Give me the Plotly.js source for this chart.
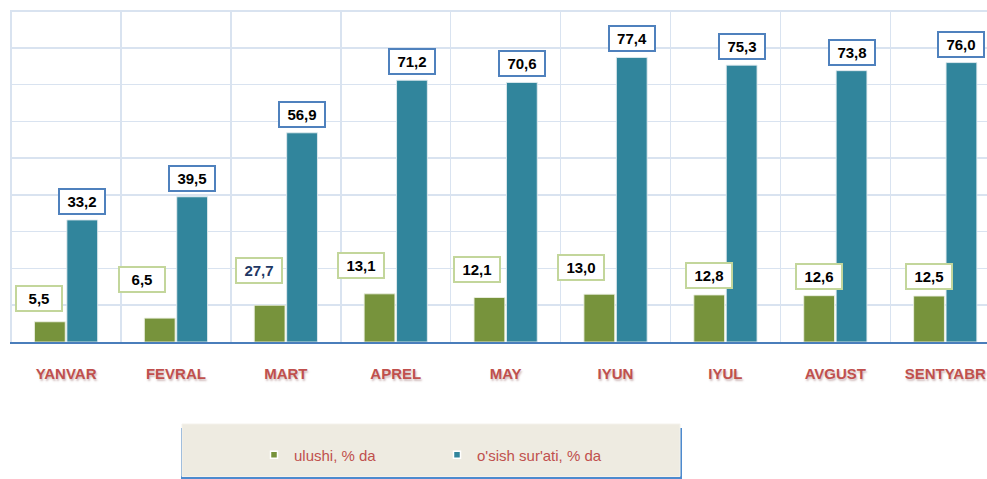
<!DOCTYPE html>
<html>
<head>
<meta charset="utf-8">
<script src="https://cdn.plot.ly/plotly-3.0.1.min.js"></script>
<style>html,body{margin:0;padding:0;background:#fff;}#chart{width:987px;height:479px;}</style>
</head>
<body>
<div id="chart"></div>
<script>
// ---- data ----
var months = ['YANVAR', 'FEVRAL', 'MART', 'APREL', 'MAY', 'IYUN', 'IYUL', 'AVGUST', 'SENTYABR'];
var ulushi = [5.5, 6.5, 10.0, 13.1, 12.1, 13.0, 12.8, 12.6, 12.5];          // drawn bar heights
var ulushiLabels = ['5,5', '6,5', '27,7', '13,1', '12,1', '13,0', '12,8', '12,6', '12,5']; // printed labels
var osish = [33.2, 39.5, 56.9, 71.2, 70.6, 77.4, 75.3, 73.8, 76.0];
var seriesNames = ['ulushi, % da', "o'sish sur'ati, % da"];

// ---- styling ----
var GREEN = '#77933c', TEAL = '#31859c', RED = '#c0504d';
var GRID = '#d9e3f0';
var BARGAP = 0.41;
var half = (1 - BARGAP) / 4; // offset of each bar centre from the category centre
// manual nudges of the green labels (px), as placed in the original
var gNudgeX = [-11, -18, -11, -19, -12, -18, 0, 0, 0];
var gNudgeY = [10, 25, 21, 15, 15, 13, 6, 6, 6];
var gLabelColor = ['#000', '#000', '#1f3864', '#000', '#000', '#000', '#000', '#000', '#000'];

var idx = months.map(function (m, i) { return i; });
function fmt(v) { return v.toFixed(1).replace('.', ','); }

var traces = [
  {
    type: 'bar', x: idx, y: ulushi, name: seriesNames[0], showlegend: false,
    marker: { color: GREEN, line: { color: 'rgba(235,240,225,0.9)', width: 1 } },
    hoverinfo: 'skip'
  },
  {
    type: 'bar', x: idx, y: osish, name: seriesNames[1], showlegend: false,
    marker: { color: TEAL, line: { color: 'rgba(225,235,240,0.9)', width: 1 } },
    hoverinfo: 'skip'
  },
  // legend entries (small square markers, as in the original)
  {
    type: 'scatter', mode: 'markers', x: [null], y: [null], name: seriesNames[0],
    marker: { symbol: 'square', size: 7, color: GREEN, line: { color: '#fff', width: 1.5 } }
  },
  {
    type: 'scatter', mode: 'markers', x: [null], y: [null], name: seriesNames[1],
    marker: { symbol: 'square', size: 7, color: TEAL, line: { color: '#fff', width: 1.5 } }
  }
];

var annotations = [];
idx.forEach(function (i) {
  annotations.push({
    x: i + half, y: osish[i], xref: 'x', yref: 'y',
    text: fmt(osish[i]), showarrow: false,
    xanchor: 'center', yanchor: 'bottom', yshift: 5,
    width: 44, height: 23, borderpad: 0,
    bgcolor: '#fff', bordercolor: '#4f81bd', borderwidth: 2,
    font: { family: 'Liberation Sans, Arial, sans-serif', size: 15, color: '#000', weight: 'bold' }
  });
  annotations.push({
    x: i - half, y: ulushi[i], xref: 'x', yref: 'y',
    text: ulushiLabels[i], showarrow: false,
    xanchor: 'center', yanchor: 'bottom', yshift: gNudgeY[i], xshift: gNudgeX[i],
    width: 44, height: 23, borderpad: 0,
    bgcolor: '#fff', bordercolor: '#c3d69b', borderwidth: 2,
    font: { family: 'Liberation Sans, Arial, sans-serif', size: 15, color: gLabelColor[i], weight: 'bold' }
  });
});

// legend panel (beige box with blue shadow) in paper coordinates
var L = 10, W = 977, T = 10, H = 332;
function px2x(px) { return (px - L) / W; }
function py2y(py) { return (T + H - py) / H; }

var shapes = [
  { type: 'rect', xref: 'paper', yref: 'paper', x0: px2x(181), x1: px2x(682), y0: py2y(479), y1: py2y(428),
    fillcolor: '#2e75c6', line: { width: 0 }, layer: 'below', opacity: 0.85 },
  { type: 'rect', xref: 'paper', yref: 'paper', x0: px2x(182), x1: px2x(680), y0: py2y(476.5), y1: py2y(424),
    fillcolor: '#eeebe1', line: { color: '#f4f2ec', width: 1 }, layer: 'below' }
];

var layout = {
  width: 987, height: 479,
  margin: { l: L, r: 0, t: T, b: 479 - T - H },
  paper_bgcolor: '#fff', plot_bgcolor: '#fff',
  barmode: 'group', bargap: BARGAP, bargroupgap: 0.05,
  font: { family: 'Liberation Sans, Arial, sans-serif' },
  xaxis: {
    type: 'linear', range: [-0.51, 8.38],
    tickmode: 'array', tickvals: idx, ticktext: months,
    ticks: 'outside', ticklen: 17, tickcolor: 'rgba(0,0,0,0)',
    tickfont: { family: 'Liberation Sans, Arial, sans-serif', size: 15, color: RED, weight: 'bold',
                shadow: '1px 2px 2px rgba(120,60,60,0.35)' },
    showgrid: false, zeroline: false,
    showline: true, linecolor: '#4a7ebb', linewidth: 2,
    minor: { tick0: -0.5, dtick: 1, showgrid: true, gridcolor: GRID, gridwidth: 1.5, ticks: '' },
    fixedrange: true
  },
  yaxis: {
    range: [0, 90.3], dtick: 10, showticklabels: false,
    showgrid: true, gridcolor: GRID, gridwidth: 1.5,
    zeroline: false, showline: false, fixedrange: true
  },
  showlegend: true,
  legend: {
    orientation: 'h', x: px2x(254), xanchor: 'left', y: py2y(455), yanchor: 'middle',
    bgcolor: 'rgba(0,0,0,0)', borderwidth: 0,
    entrywidth: 138, entrywidthmode: 'pixels',
    font: { family: 'Liberation Sans, Arial, sans-serif', size: 15, color: RED }
  },
  annotations: annotations,
  shapes: shapes
};

Plotly.newPlot('chart', traces, layout, { displayModeBar: false, staticPlot: true });
</script>
</body>
</html>
